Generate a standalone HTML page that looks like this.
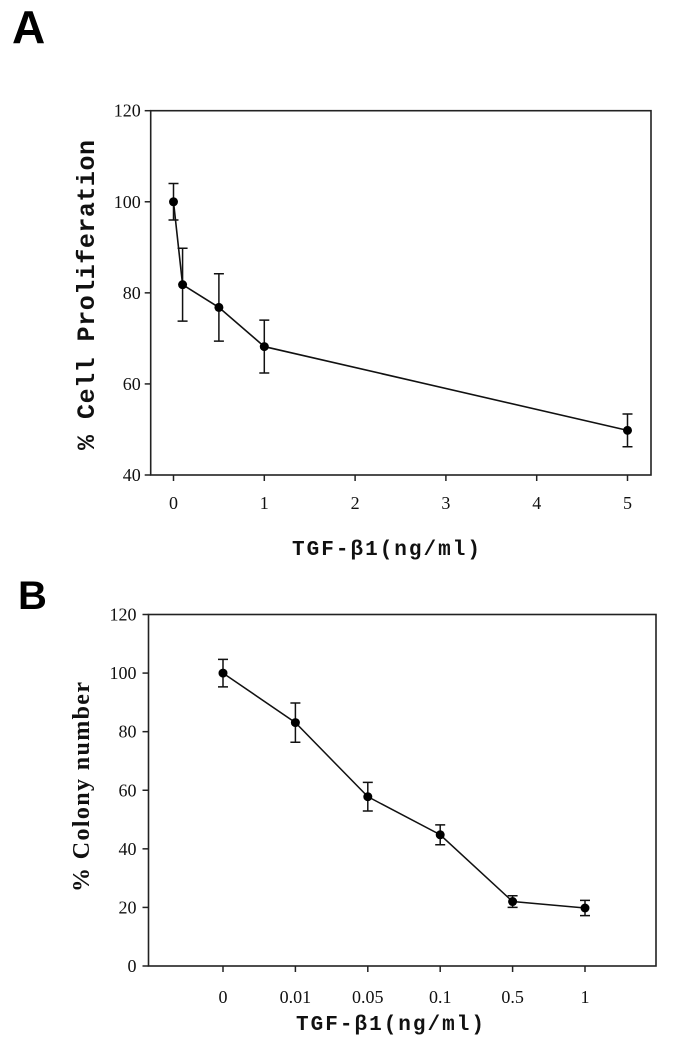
<!DOCTYPE html>
<html><head><meta charset="utf-8"><style>
html,body{margin:0;padding:0;background:#fff;}
svg{display:block;}
.tk{font-family:"Liberation Serif",serif;font-size:18px;fill:#111;}
.mono{font-family:"Liberation Mono",monospace;font-weight:bold;fill:#111;}
</style></head><body>
<svg id="fig" width="678" height="1050" viewBox="0 0 678 1050">
<text x="12" y="43" font-family="Liberation Sans, sans-serif" font-weight="bold" font-size="46">A</text>
<text x="18" y="609" font-family="Liberation Sans, sans-serif" font-weight="bold" font-size="40">B</text>
<g id="chartA"></g>
<g id="chartB"></g>
</svg>
<script>
const NS="http://www.w3.org/2000/svg";
// Chart A data
const aDoses=[0,0.1,0.5,1,5];
const aMeans=[100,81.8,76.8,68.2,49.8];
const aErrs=[4,8,7.4,5.8,3.6];
const aXTicks=[0,1,2,3,4,5];
const aYTicks=[40,60,80,100,120];
// Chart B data
const bCats=["0","0.01","0.05","0.1","0.5","1"];
const bMeans=[100,83.1,57.8,44.8,22,19.8];
const bErrs=[4.7,6.7,4.9,3.4,2,2.6];
const bYTicks=[0,20,40,60,80,100,120];

function mk(parent,tag,attrs,text){const e=document.createElementNS(NS,tag);for(const k in attrs)e.setAttribute(k,attrs[k]);if(text!==undefined)e.textContent=text;parent.appendChild(e);return e;}

// Chart A
(function(){
const g=document.getElementById('chartA');
const L=150.7,R=651,T=110.7,B=475;
const xs=v=>173.5+v*90.8;
const ys=v=>B-(v-40)/80*(B-T);
const box=mk(g,'rect',{x:L,y:T,width:R-L,height:B-T,fill:'none',stroke:'#222','stroke-width':1.6});


aYTicks.forEach(v=>{
 const t=mk(g,'line',{x1:L-6,x2:L,y1:ys(v),y2:ys(v),stroke:'#222','stroke-width':1.5});
 
 
 const l=mk(g,'text',{x:L-10,y:ys(v)+6,'text-anchor':'end',class:'tk'},String(v));
 
 
});
aXTicks.forEach(v=>{
 const t=mk(g,'line',{x1:xs(v),x2:xs(v),y1:B,y2:B+6,stroke:'#222','stroke-width':1.5});
 
 
 const l=mk(g,'text',{x:xs(v),y:B+34,'text-anchor':'middle',class:'tk'},String(v));
 
 
});
const pts=aDoses.map((d,i)=>xs(d)+','+ys(aMeans[i])).join(' ');
const line=mk(g,'polyline',{points:pts,fill:'none',stroke:'#111','stroke-width':1.6});


aDoses.forEach((d,i)=>{
 const x=xs(d),hi=ys(aMeans[i]+aErrs[i]),lo=ys(aMeans[i]-aErrs[i]);
 const e=mk(g,'path',{d:`M${x},${hi}V${lo}M${x-5},${hi}H${x+5}M${x-5},${lo}H${x+5}`,stroke:'#111','stroke-width':1.5,fill:'none'});
 
 
 const c=mk(g,'circle',{cx:x,cy:ys(aMeans[i]),r:4.5,fill:'#000'});
 
 
});
const xt=mk(g,'text',{x:386,y:555,'text-anchor':'middle',class:'mono','font-size':21,textLength:188},'TGF-β1(ng/ml)');


const yt=mk(g,'text',{x:0,y:0,'text-anchor':'middle',class:'mono','font-size':25,textLength:310,transform:'translate(94,295) rotate(-90)'},'% Cell Proliferation');


})();

// Chart B
(function(){
const g=document.getElementById('chartB');
const L=148.5,R=656,T=614.5,B=966;
const xs=i=>223+i*72.4;
const ys=v=>B-v/120*(B-T);
const box=mk(g,'rect',{x:L,y:T,width:R-L,height:B-T,fill:'none',stroke:'#222','stroke-width':1.6});


bYTicks.forEach(v=>{
 const t=mk(g,'line',{x1:L-6,x2:L,y1:ys(v),y2:ys(v),stroke:'#222','stroke-width':1.5});
 
 
 const l=mk(g,'text',{x:L-12,y:ys(v)+6,'text-anchor':'end',class:'tk'},String(v));
 
 
});
bCats.forEach((c,i)=>{
 const t=mk(g,'line',{x1:xs(i),x2:xs(i),y1:B,y2:B+6,stroke:'#222','stroke-width':1.5});
 
 
 const l=mk(g,'text',{x:xs(i),y:B+37,'text-anchor':'middle',class:'tk'},c);
 
 
});
const pts=bMeans.map((m,i)=>xs(i)+','+ys(m)).join(' ');
const line=mk(g,'polyline',{points:pts,fill:'none',stroke:'#111','stroke-width':1.5});


bMeans.forEach((m,i)=>{
 const x=xs(i),hi=ys(m+bErrs[i]),lo=ys(m-bErrs[i]);
 const e=mk(g,'path',{d:`M${x},${hi}V${lo}M${x-5},${hi}H${x+5}M${x-5},${lo}H${x+5}`,stroke:'#111','stroke-width':1.5,fill:'none'});
 
 
 const c=mk(g,'circle',{cx:x,cy:ys(m),r:4.5,fill:'#000'});
 
 
});
const xt=mk(g,'text',{x:390,y:1030,'text-anchor':'middle',class:'mono','font-size':21,textLength:188},'TGF-β1(ng/ml)');


const yt=mk(g,'text',{x:0,y:0,'text-anchor':'middle','font-family':'Liberation Serif, serif','font-weight':'bold','font-size':24,textLength:210,fill:'#111',transform:'translate(89,787) rotate(-90)'},'% Colony number');


})();
</script>
</body></html>
